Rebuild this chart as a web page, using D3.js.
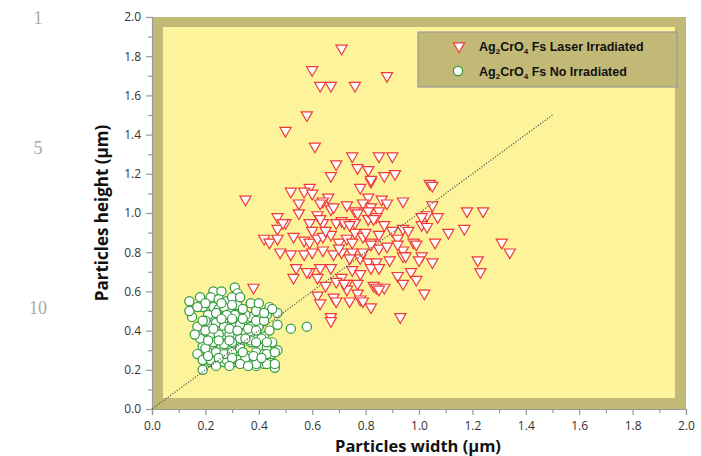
<!DOCTYPE html>
<html>
<head>
<meta charset="utf-8">
<script src="https://cdn.jsdelivr.net/npm/d3@7"></script>
<style>
  body { margin: 0; background: #fff; }
  svg { display: block; }
</style>
</head>
<body>
<svg id="chart" width="701" height="456"></svg>
<script>
// particle sizes [width, height] in µm
const laserPoints = [
  [0.71,1.84],[0.60,1.73],[0.88,1.70],[0.63,1.65],[0.67,1.65],[0.76,1.65],[0.58,1.50],[0.50,1.42],
  [0.61,1.34],[0.75,1.29],[0.85,1.29],[0.90,1.29],[0.69,1.25],[0.77,1.23],[0.81,1.22],[0.67,1.19],
  [0.91,1.20],[0.87,1.19],[0.82,1.16],[0.78,1.13],[0.59,1.13],[0.52,1.11],[0.57,1.11],[0.60,1.10],
  [0.66,1.08],[0.81,1.08],[0.86,1.07],[0.35,1.07],[0.94,1.06],[0.55,1.05],[0.88,1.05],[0.73,1.04],
  [0.79,1.05],[0.82,1.03],[0.64,1.06],[1.04,1.15],[0.55,1.00],[0.47,0.98],[0.62,0.99],[0.67,1.02],
  [0.76,1.01],[0.85,1.01],[1.03,0.99],[0.63,1.05],[0.68,1.03],[0.50,0.95],[0.47,0.92],[0.64,0.95],
  [0.71,0.96],[0.76,0.95],[0.81,0.97],[0.84,0.98],[0.87,0.94],[0.90,0.91],[0.94,0.92],[0.96,0.91],
  [1.01,0.94],[0.42,0.87],[0.44,0.85],[0.53,0.88],[0.57,0.86],[0.59,0.85],[0.62,0.87],[0.64,0.88],
  [0.67,0.89],[0.70,0.85],[0.73,0.87],[0.76,0.90],[0.79,0.88],[0.82,0.85],[0.85,0.82],[0.88,0.83],
  [0.92,0.87],[0.94,0.81],[0.98,0.85],[1.01,0.78],[0.48,0.80],[0.52,0.79],[0.57,0.79],[0.60,0.80],
  [0.64,0.81],[0.68,0.79],[0.71,0.80],[0.75,0.80],[0.78,0.77],[0.81,0.75],[0.84,0.75],[0.89,0.76],
  [0.94,0.78],[1.00,0.76],[0.54,0.72],[0.59,0.70],[0.63,0.72],[0.67,0.72],[0.71,0.67],[0.75,0.71],
  [0.78,0.69],[0.82,0.72],[0.85,0.72],[0.92,0.68],[0.97,0.70],[0.53,0.67],[0.62,0.67],[0.69,0.65],
  [0.73,0.64],[0.77,0.64],[0.83,0.63],[0.87,0.62],[0.94,0.64],[0.99,0.66],[1.02,0.59],[0.38,0.62],
  [0.62,0.58],[0.68,0.57],[0.73,0.61],[0.77,0.59],[0.84,0.62],[0.63,0.54],[0.69,0.55],[0.74,0.55],
  [0.78,0.56],[0.82,0.52],[0.67,0.47],[0.67,0.45],[0.93,0.47],[1.05,1.14],[1.05,1.04],[1.18,1.01],
  [1.24,1.01],[1.01,0.98],[1.07,0.98],[1.03,0.93],[1.11,0.90],[1.17,0.92],[0.99,0.84],[1.06,0.85],
  [1.31,0.85],[1.34,0.80],[0.95,0.78],[1.05,0.75],[1.22,0.76],[1.23,0.70],[0.47,0.87],[0.49,0.95],
  [0.59,0.95],[0.60,0.91],[0.63,0.97],[0.65,0.91],[0.69,0.95],[0.72,0.95],[0.74,0.94],[0.75,0.85],
  [0.82,1.17],[0.81,1.01],[0.77,1.00],[0.83,0.97],[0.80,0.90],[0.85,0.89],[0.82,0.84],[0.92,0.84],
  [0.58,0.70],[0.65,0.63],[0.72,0.64],[0.70,0.82],[0.74,0.77],[0.79,0.80],[0.85,0.61],[0.79,0.55]
];

const noIrrPoints = [
  [0.14,0.55],[0.18,0.57],[0.23,0.60],[0.26,0.60],[0.22,0.57],[0.28,0.55],[0.31,0.62],[0.32,0.59],
  [0.19,0.52],[0.15,0.47],[0.23,0.52],[0.25,0.51],[0.29,0.51],[0.32,0.53],[0.37,0.54],[0.44,0.52],
  [0.47,0.49],[0.43,0.48],[0.40,0.48],[0.37,0.47],[0.35,0.48],[0.31,0.48],[0.28,0.46],[0.24,0.47],
  [0.21,0.48],[0.17,0.42],[0.21,0.43],[0.24,0.44],[0.27,0.42],[0.30,0.44],[0.34,0.43],[0.37,0.42],
  [0.40,0.42],[0.47,0.43],[0.52,0.41],[0.58,0.42],[0.19,0.38],[0.24,0.37],[0.27,0.38],[0.31,0.37],
  [0.35,0.39],[0.38,0.37],[0.42,0.37],[0.19,0.32],[0.22,0.32],[0.26,0.32],[0.30,0.32],[0.33,0.32],
  [0.37,0.34],[0.40,0.32],[0.43,0.31],[0.47,0.30],[0.17,0.28],[0.21,0.29],[0.26,0.29],[0.29,0.28],
  [0.33,0.27],[0.36,0.27],[0.39,0.29],[0.42,0.28],[0.45,0.28],[0.22,0.24],[0.27,0.24],[0.28,0.25],
  [0.31,0.24],[0.35,0.26],[0.19,0.20],[0.39,0.22],[0.42,0.23],[0.46,0.21],[0.14,0.50],[0.25,0.56],
  [0.30,0.57],[0.27,0.52],[0.24,0.49],[0.28,0.48],[0.22,0.38],[0.25,0.38],[0.29,0.38],[0.18,0.36],
  [0.23,0.34],[0.27,0.33],[0.30,0.34],[0.20,0.31],[0.24,0.29],[0.27,0.28],[0.30,0.29],[0.19,0.25],
  [0.22,0.25],[0.45,0.51],[0.33,0.43],[0.37,0.39],[0.33,0.36],[0.37,0.35],[0.41,0.36],[0.45,0.34],
  [0.33,0.31],[0.43,0.28],[0.46,0.29],[0.32,0.25],[0.35,0.26],[0.39,0.23],[0.43,0.23],[0.46,0.23],
  [0.20,0.45],[0.26,0.46],[0.30,0.46],[0.34,0.46],[0.39,0.45],[0.42,0.45],[0.20,0.40],[0.23,0.41],
  [0.29,0.41],[0.32,0.40],[0.36,0.41],[0.39,0.40],[0.44,0.40],[0.21,0.35],[0.25,0.35],[0.29,0.35],
  [0.35,0.36],[0.39,0.34],[0.43,0.34],[0.21,0.27],[0.25,0.26],[0.30,0.26],[0.34,0.29],[0.38,0.27],
  [0.41,0.26],[0.24,0.22],[0.29,0.22],[0.33,0.23],[0.36,0.22],[0.20,0.54],[0.26,0.54],[0.30,0.53],
  [0.34,0.51],[0.39,0.50],[0.42,0.49],[0.17,0.52],[0.19,0.45],[0.16,0.38],[0.33,0.57],[0.40,0.54]
];

const fitLine = [[0, 0], [1.5, 1.5]];
const tickValues = [0, 0.2, 0.4, 0.6, 0.8, 1.0, 1.2, 1.4, 1.6, 1.8, 2.0];
const minorTicks = d3.range(1, 20, 2).map(d => d / 10);
const legendLabels = [
  ["Ag", "2", "CrO", "4", " Fs Laser Irradiated"],
  ["Ag", "2", "CrO", "4", " Fs No Irradiated"]
];
const lineNumbers = [["1", 18], ["5", 148], ["10", 308]];

const svg = d3.select("#chart");
const x = d3.scaleLinear().domain([0, 2]).range([152, 686]);
const y = d3.scaleLinear().domain([0, 2]).range([409, 17]);

// manuscript line numbers
svg.selectAll(".lineno")
  .data(lineNumbers)
  .enter().append("text")
  .attr("x", 38).attr("y", d => d[1] + 6)
  .attr("text-anchor", "middle")
  .attr("font-family", "Liberation Serif, DejaVu Serif, serif")
  .attr("font-size", 18)
  .attr("fill", "#aaa")
  .text(d => d[0]);

// frame
svg.append("rect")
  .attr("x", x(0)).attr("y", y(2))
  .attr("width", x(2) - x(0)).attr("height", y(0) - y(2))
  .attr("fill", "#c2b976");
svg.append("rect")
  .attr("x", x(0) + 11).attr("y", y(2) + 10)
  .attr("width", x(2) - x(0) - 22).attr("height", y(0) - y(2) - 21)
  .attr("fill", "#fcf39b");

// axes
svg.append("g").attr("transform", `translate(0,${y(0)})`)
  .call(d3.axisBottom(x).tickValues(tickValues).tickFormat(d3.format(".1f")).tickSize(6).tickPadding(6));
svg.append("g").attr("transform", `translate(0,${y(0)})`)
  .call(d3.axisBottom(x).tickValues(minorTicks).tickFormat("").tickSize(4))
  .select(".domain").remove();
svg.append("g").attr("transform", `translate(${x(0)},0)`)
  .call(d3.axisLeft(y).tickValues(tickValues).tickFormat(d3.format(".1f")).tickSize(6).tickPadding(5));
svg.append("g").attr("transform", `translate(${x(0)},0)`)
  .call(d3.axisLeft(y).tickValues(minorTicks).tickFormat("").tickSize(4))
  .select(".domain").remove();

svg.selectAll(".domain, .tick line").attr("stroke", "#999").attr("stroke-width", 1.2);
svg.selectAll(".tick text")
  .attr("font-family", "Open Sans, sans-serif")
  .attr("font-size", 12)
  .attr("fill", "#333");

// axis titles
svg.append("text")
  .attr("x", 418).attr("y", 452)
  .attr("text-anchor", "middle")
  .attr("font-family", "Open Sans, sans-serif")
  .attr("font-weight", "bold")
  .attr("font-size", 16.5)
  .attr("fill", "#111")
  .text("Particles width (µm)");
svg.append("text")
  .attr("transform", `translate(108,${y(1)}) rotate(-90)`)
  .attr("text-anchor", "middle")
  .attr("font-family", "Open Sans, sans-serif")
  .attr("font-weight", "bold")
  .attr("font-size", 17)
  .attr("fill", "#111")
  .text("Particles height (µm)");

// markers
const tri = d3.symbol().type(d3.symbolTriangle).size(54);
svg.append("g").selectAll("path")
  .data(laserPoints)
  .enter().append("path")
  .attr("d", tri)
  .attr("transform", d => `translate(${x(d[0])},${y(d[1])}) rotate(180)`)
  .attr("fill", "#fff")
  .attr("stroke", "#f03a3a")
  .attr("stroke-width", 1.2);

svg.append("g").selectAll("circle")
  .data(noIrrPoints)
  .enter().append("circle")
  .attr("cx", d => x(d[0])).attr("cy", d => y(d[1]))
  .attr("r", 4.6)
  .attr("fill", "#fff")
  .attr("stroke", "#2f9a3a")
  .attr("stroke-width", 1.2);

// dotted diagonal
svg.append("path")
  .datum(fitLine)
  .attr("d", d3.line().x(d => x(d[0])).y(d => y(d[1])))
  .attr("stroke", "#555")
  .attr("stroke-width", 1.2)
  .attr("stroke-dasharray", "1.2,1.6")
  .attr("fill", "none");

// legend
const lg = svg.append("g");
lg.append("rect")
  .attr("x", 418).attr("y", 32).attr("width", 259).attr("height", 55)
  .attr("fill", "#c2b976").attr("stroke", "#9a9a9a").attr("stroke-width", 1.2);
lg.append("path")
  .attr("d", tri)
  .attr("transform", "translate(459,46) rotate(180)")
  .attr("fill", "#fff").attr("stroke", "#f03a3a").attr("stroke-width", 1.2);
lg.append("circle")
  .attr("cx", 458).attr("cy", 71).attr("r", 4.6)
  .attr("fill", "#fff").attr("stroke", "#2f9a3a").attr("stroke-width", 1.2);
legendLabels.forEach((parts, i) => {
  const t = lg.append("text")
    .attr("x", 479).attr("y", 51 + i * 25)
    .attr("font-family", "Liberation Sans, Arial, sans-serif")
    .attr("font-weight", "bold")
    .attr("font-size", 12.5)
    .attr("fill", "#111");
  parts.forEach((p, j) => {
    const sub = j === 1 || j === 3;
    t.append("tspan")
      .attr("font-size", sub ? 8 : 12.5)
      .attr("dy", sub ? 3 : (j > 0 ? -3 : 0))
      .text(p);
  });
});
</script>
</body>
</html>
